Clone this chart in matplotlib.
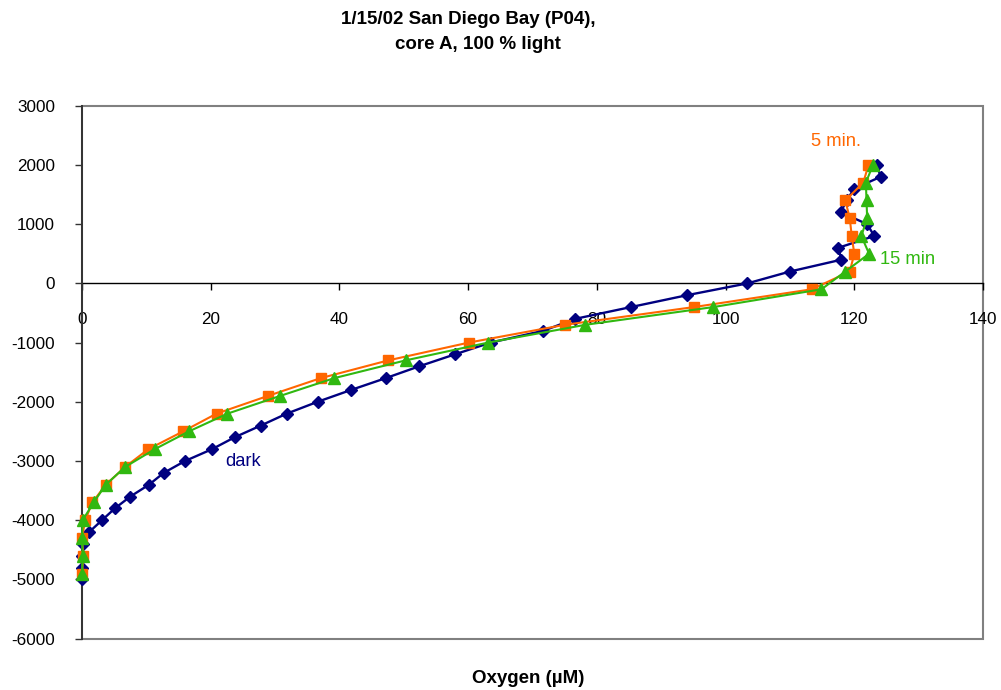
import matplotlib
matplotlib.use("Agg")
import matplotlib.pyplot as plt
from matplotlib.patches import Rectangle

plt.rcParams['font.family'] = ['Liberation Sans', 'DejaVu Sans']

# ---- data ----
dark_depth = [2000, 1800, 1600, 1400, 1200, 1000, 800, 600, 400, 200, 0,
              -200, -400, -600, -800, -1000, -1200, -1400, -1600, -1800, -2000,
              -2200, -2400, -2600, -2800, -3000, -3200, -3400, -3600, -3800,
              -4000, -4200, -4400, -4600, -4800, -5000]
dark_o2 = [123.5, 124.1, 120.0, 118.8, 117.9, 122.0, 123.1, 117.5, 118.0, 110.0, 103.4,
           94.0, 85.3, 76.6, 71.7, 63.5, 57.9, 52.4, 47.2, 41.8, 36.6,
           31.8, 27.8, 23.7, 20.2, 16.0, 12.7, 10.4, 7.5, 5.1,
           3.1, 1.1, 0.2, 0.0, 0.0, 0.0]

light_depth = [2000, 1700, 1400, 1100, 800, 500, 200, -100, -400, -700, -1000,
               -1300, -1600, -1900, -2200, -2500, -2800, -3100, -3400, -3700,
               -4000, -4300, -4600, -4900]
min5_o2 = [122.2, 121.4, 118.6, 119.3, 119.6, 120.0, 119.3, 113.4, 95.1, 75.0, 60.1,
           47.6, 37.1, 28.9, 20.9, 15.7, 10.3, 6.7, 3.7, 1.6,
           0.5, 0.0, 0.2, 0.0]
min15_o2 = [122.9, 121.8, 121.9, 122.0, 121.1, 122.3, 118.6, 114.9, 98.1, 78.2, 63.1,
            50.3, 39.2, 30.8, 22.6, 16.6, 11.3, 6.7, 3.7, 1.8,
            0.1, 0.0, 0.1, 0.0]

x_ticks = [0, 20, 40, 60, 80, 100, 120, 140]
y_ticks = [3000, 2000, 1000, 0, -1000, -2000, -3000, -4000, -5000, -6000]

title_line1 = "1/15/02 San Diego Bay (P04),"
title_line2 = "core A, 100 % light"
x_label = "Oxygen (µM)"

NAVY = "#000080"
ORANGE = "#FF6600"
GREEN = "#30B810"

W, H = 1001, 690
fig = plt.figure(figsize=(W / 100, H / 100), dpi=100)
fig.patch.set_facecolor("white")

left, right, top, bottom = 82, 983, 105.7, 638.7
ax = fig.add_axes([left / W, 1 - bottom / H, (right - left) / W, (bottom - top) / H])
ax.set_xlim(0, 140)
ax.set_ylim(-6000, 3000)

# gray plot-area border
ax.add_patch(Rectangle((0, 0), 1, 1, transform=ax.transAxes, fill=False,
                       edgecolor="#808080", linewidth=1.5, clip_on=False, zorder=1))
for s in ["top", "right"]:
    ax.spines[s].set_visible(False)
ax.spines["left"].set_color("#333333")
ax.spines["left"].set_linewidth(1.4)
ax.spines["left"].set_zorder(3)
ax.spines["bottom"].set_position(("data", 0))
ax.spines["bottom"].set_color("black")
ax.spines["bottom"].set_linewidth(1.0)

ax.set_xticks(x_ticks)
ax.set_xticklabels([str(v) for v in x_ticks])
ax.set_yticks(y_ticks)
ax.set_yticklabels([str(v) for v in y_ticks])
ax.tick_params(axis="x", direction="out", length=5, width=1, color="black",
               pad=15.6, labelsize=12.3)
ax.tick_params(axis="y", direction="out", length=5, width=1, color="#333333",
               pad=14.4, labelsize=12.3)

ax.plot(dark_o2, dark_depth, color=NAVY, lw=1.7, marker="D", markersize=6.3,
        markerfacecolor=NAVY, markeredgecolor=NAVY, zorder=4, clip_on=False)
ax.plot(min5_o2, light_depth, color=ORANGE, lw=1.5, marker="s", markersize=7.2,
        markerfacecolor=ORANGE, markeredgecolor=ORANGE, zorder=5, clip_on=False)
ax.plot(min15_o2, light_depth, color=GREEN, lw=1.5, marker="^", markersize=8.3,
        markerfacecolor=GREEN, markeredgecolor=GREEN, zorder=6, clip_on=False)

ax.text(113.3, 2398, "5 min.", color=ORANGE, fontsize=13.2, ha="left", va="center")
ax.text(124.0, 397, "15 min", color=GREEN, fontsize=13.2, ha="left", va="center")
ax.text(22.2, -3006, "dark", color=NAVY, fontsize=13.2, ha="left", va="center")

fig.text(468 / W, 1 - 24 / H, title_line1, fontsize=13.5, fontweight="bold",
         ha="center", va="baseline")
fig.text(478 / W, 1 - 49 / H, title_line2, fontsize=13.5, fontweight="bold",
         ha="center", va="baseline")
fig.text(528 / W, 1 - 683 / H, x_label, fontsize=13.5, fontweight="bold",
         ha="center", va="baseline")

fig.savefig("out.png", dpi=100)
